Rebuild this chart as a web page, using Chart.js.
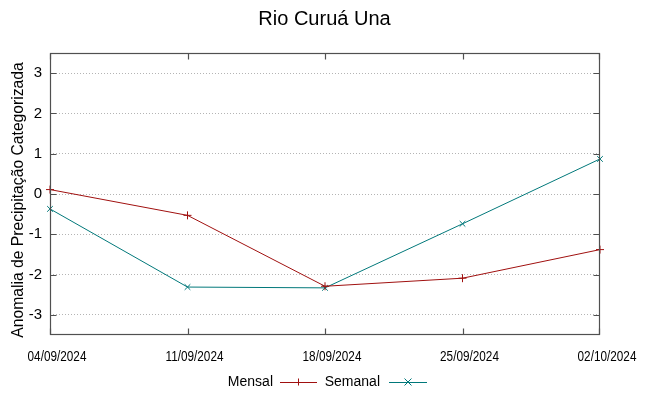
<!DOCTYPE html>
<html>
<head>
<meta charset="utf-8">
<script src="https://cdn.jsdelivr.net/npm/chart.js@4/dist/chart.umd.min.js"></script>
<style>
  html, body { margin: 0; padding: 0; background: #fff; }
  #wrap { width: 649px; height: 396px; }
</style>
</head>
<body>
<div id="wrap"><canvas id="grafico" width="649" height="396"></canvas></div>
<script>
// datas das semanas (eixo x)
const datas = ['04/09/2024', '11/09/2024', '18/09/2024', '25/09/2024', '02/10/2024'];

// anomalias
const mensal = [0.11, -0.53, -2.29, -2.09, -1.38];
const semanal = [-0.37, -2.31, -2.33, -0.74, 0.87];

// marcas do eixo y
const ticksY = [-3, -2, -1, 0, 1, 2, 3];

const corMensal = '#a0100f';
const corSemanal = '#00787a';
const fonte = '"Liberation Sans", Arial, sans-serif';

// título e rótulo do eixo y posicionados como no gnuplot
const textos = {
    id: 'textos',
    afterDraw(chart) {
        const ctx = chart.ctx;
        ctx.save();
        ctx.fillStyle = '#000';
        ctx.textAlign = 'center';
        ctx.textBaseline = 'middle';
        ctx.font = '20px ' + fonte;
        ctx.fillText('Rio Curuá Una', chart.width / 2, 19);

        ctx.font = '15.7px ' + fonte;
        ctx.translate(18.5, 200);
        ctx.rotate(-Math.PI / 2);
        ctx.fillText('Anomalia de Precipitação Categorizada', 0, 0);
        ctx.restore();
    }
};

// rótulos do eixo x em fonte estreita (gnuplot usa uma fonte condensada)
const rotulosX = {
    id: 'rotulosX',
    afterDraw(chart) {
        const { ctx, scales } = chart;
        ctx.save();
        ctx.font = '14px ' + fonte;
        ctx.fillStyle = '#000';
        ctx.textAlign = 'center';
        ctx.textBaseline = 'middle';
        datas.forEach((d, i) => {
            const x = scales.x.getPixelForValue(i) + 7;
            ctx.save();
            ctx.translate(x, 357);
            ctx.scale(0.84, 1);
            ctx.fillText(d, 0, 0);
            ctx.restore();
        });
        ctx.restore();
    }
};

// desenha a moldura e as marcas internas, estilo gnuplot
const moldura = {
    id: 'moldura',
    afterDatasetsDraw(chart) {
        const { ctx, chartArea: a, scales } = chart;
        const esq = Math.round(a.left) + 0.5, dir = Math.round(a.right) - 0.5;
        const topo = Math.round(a.top) + 0.5, base = Math.round(a.bottom) - 0.5;
        ctx.save();
        ctx.strokeStyle = '#505050';
        ctx.lineWidth = 1.2;
        ctx.strokeRect(esq, topo, dir - esq, base - topo);
        ctx.beginPath();
        ticksY.forEach(v => {
            const y = Math.round(scales.y.getPixelForValue(v)) + 0.5;
            ctx.moveTo(esq, y); ctx.lineTo(esq + 6, y);
            ctx.moveTo(dir, y); ctx.lineTo(dir - 6, y);
        });
        datas.forEach((d, i) => {
            const x = Math.min(dir, Math.round(scales.x.getPixelForValue(i)) + 0.5);
            ctx.moveTo(x, base); ctx.lineTo(x, base - 6);
            ctx.moveTo(x, topo); ctx.lineTo(x, topo + 6);
        });
        ctx.stroke();
        ctx.restore();
    }
};

// legenda abaixo: texto e depois a amostra da linha
const legenda = {
    id: 'legenda',
    afterDraw(chart) {
        const ctx = chart.ctx;
        const y = 382;
        const itens = [
            { texto: 'Mensal', cor: corMensal, fimTexto: 273, x0: 280, x1: 317, marca: 'mais' },
            { texto: 'Semanal', cor: corSemanal, fimTexto: 380, x0: 389, x1: 427, marca: 'xis' }
        ];
        ctx.save();
        ctx.font = '14px ' + fonte;
        ctx.textAlign = 'right';
        ctx.textBaseline = 'middle';
        itens.forEach(it => {
            ctx.fillStyle = '#000';
            ctx.fillText(it.texto, it.fimTexto, y);
            ctx.strokeStyle = it.cor;
            ctx.lineWidth = 1;
            ctx.beginPath();
            ctx.moveTo(it.x0, y + 0.5); ctx.lineTo(it.x1, y + 0.5);
            const cx = (it.x0 + it.x1) / 2, r = 3.5;
            if (it.marca === 'mais') {
                ctx.moveTo(cx, y - r); ctx.lineTo(cx, y + r);
            } else {
                ctx.moveTo(cx - r, y - r); ctx.lineTo(cx + r, y + r);
                ctx.moveTo(cx - r, y + r); ctx.lineTo(cx + r, y - r);
            }
            ctx.stroke();
        });
        ctx.restore();
    }
};

new Chart(document.getElementById('grafico'), {
    type: 'line',
    data: {
        labels: datas,
        datasets: [
            {
                label: 'Mensal',
                data: mensal,
                borderColor: corMensal,
                backgroundColor: corMensal,
                borderWidth: 1,
                pointStyle: 'cross',
                pointRadius: 4,
                pointBorderWidth: 1,
                tension: 0
            },
            {
                label: 'Semanal',
                data: semanal,
                borderColor: corSemanal,
                backgroundColor: corSemanal,
                borderWidth: 1,
                pointStyle: 'crossRot',
                pointRadius: 4,
                pointBorderWidth: 1,
                tension: 0
            }
        ]
    },
    options: {
        responsive: false,
        animation: false,
        layout: { padding: { top: 53, right: 49, bottom: 0, left: 0 } },
        plugins: {
            legend: { display: false },
            tooltip: { enabled: false },
            title: { display: false }
        },
        scales: {
            x: {
                type: 'category',
                offset: false,
                grid: { display: false, drawTicks: false },
                border: { display: false },
                ticks: { display: false },
                afterFit(scale) { scale.height = 61; }
            },
            y: {
                min: -3.5,
                max: 3.5,
                ticks: {
                    stepSize: 1,
                    color: '#000',
                    padding: 8,
                    font: { family: fonte, size: 15 }
                },
                afterBuildTicks(scale) {
                    scale.ticks = ticksY.map(v => ({ value: v }));
                },
                grid: {
                    color: '#b4b4b4',
                    drawTicks: false
                },
                border: { display: false, dash: [1, 2] },
                afterFit(scale) { scale.width = 50; }
            }
        }
    },
    plugins: [moldura, textos, rotulosX, legenda]
});
</script>
</body>
</html>
